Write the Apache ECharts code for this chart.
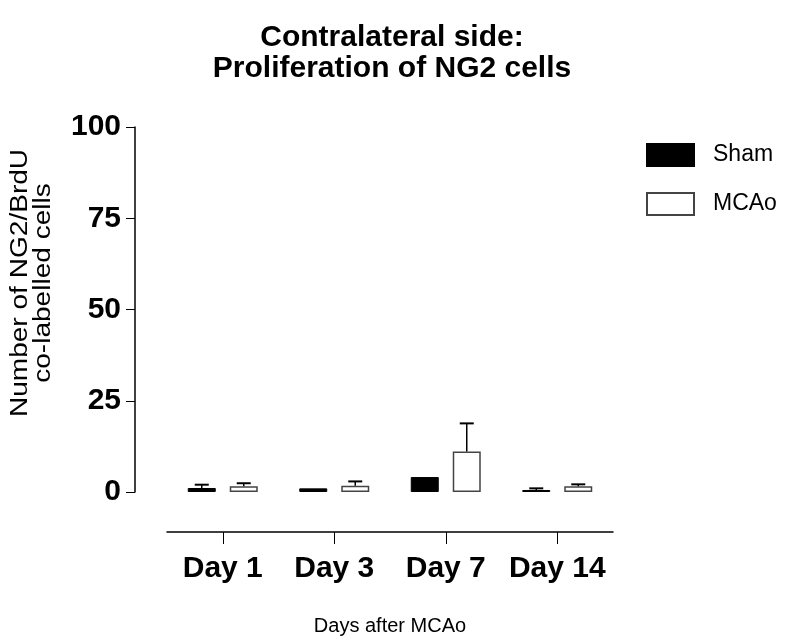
<!DOCTYPE html>
<html>
<head>
<meta charset="utf-8">
<script src="https://cdn.jsdelivr.net/npm/echarts@6/dist/echarts.min.js"></script>
<style>html,body{margin:0;padding:0;background:#fff;}#c{width:809px;height:639px;}</style>
</head>
<body>
<div id="c"></div>
<script>
var categories = ['Day 1', 'Day 3', 'Day 7', 'Day 14'];
var shamMean = [1.1, 1.0, 4.1, 0.55];
var shamSem = [0.9, 0, 0, 0.45];
var mcaoMean = [1.6, 1.7, 11.1, 1.6];
var mcaoSem = [0.8, 1.2, 7.7, 0.5];
var yTicks = [0, 25, 50, 75, 100];

var FONT = 'Liberation Sans, Arial, sans-serif';
var chart = echarts.init(document.getElementById('c'));

function errSeries(name, means, sems, offset) {
  return {
    type: 'custom',
    name: name + ' err',
    z: 5,
    silent: true,
    data: means.map(function (m, i) { return [i, m, m + sems[i]]; }),
    renderItem: function (params, api) {
      var lo = api.value(1), hi = api.value(2);
      if (hi - lo <= 0) return null;
      var p0 = api.coord([api.value(0), lo]);
      var p1 = api.coord([api.value(0), hi]);
      var x = p0[0] + offset;
      return {
        type: 'group',
        children: [
          { type: 'line', shape: { x1: x, y1: p0[1], x2: x, y2: p1[1] }, style: { stroke: '#000', lineWidth: 1.5 } },
          { type: 'line', shape: { x1: x - 7, y1: p1[1], x2: x + 7, y2: p1[1] }, style: { stroke: '#000', lineWidth: 2 } }
        ]
      };
    }
  };
}

chart.setOption({
  animation: false,
  backgroundColor: '#fff',
  title: {
    text: 'Contralateral side:\nProliferation of NG2 cells',
    left: 387, textAlign: 'center', top: 17,
    textStyle: { fontFamily: FONT, fontWeight: 'bold', fontSize: 30, lineHeight: 31, color: '#000' }
  },
  legend: {
    orient: 'vertical', left: 646, top: 143, padding: 0,
    itemWidth: 47, itemHeight: 22, itemGap: 25, icon: 'rect',
    data: ['Sham', 'MCAo'],
    textStyle: { fontFamily: FONT, fontSize: 23, color: '#000', padding: [0, 0, 0, 14] }
  },
  grid: { left: 167, right: 196, top: 127, bottom: 147, outerBoundsMode: 'none', containLabel: false },
  xAxis: {
    type: 'category', data: categories, offset: 40,
    axisLine: { show: true, onZero: false, lineStyle: { color: '#000', width: 1.5 } },
    axisTick: { show: true, interval: 0, alignWithLabel: true, length: 12, lineStyle: { color: '#000', width: 1 } },
    axisLabel: { interval: 0, fontFamily: FONT, fontWeight: 'bold', fontSize: 30, color: '#000', margin: 22 },
    name: 'Days after MCAo', nameLocation: 'middle', nameGap: 84,
    nameTextStyle: { fontFamily: FONT, fontSize: 20, color: '#000' }
  },
  yAxis: {
    type: 'value', min: yTicks[0], max: yTicks[yTicks.length - 1], interval: 25, offset: 32,
    axisLine: { show: true, lineStyle: { color: '#000', width: 1.5 } },
    axisTick: { show: true, length: 9, lineStyle: { color: '#000', width: 1 } },
    splitLine: { show: false },
    axisLabel: { fontFamily: FONT, fontWeight: 'bold', fontSize: 30, color: '#000', margin: 14 }
  },
  graphic: [{
    type: 'text', x: 32, y: 283, rotation: Math.PI / 2, scaleX: 1.22, scaleY: 1,
    style: {
      text: 'Number of NG2/BrdU\nco-labelled cells',
      font: '23px ' + FONT, fill: '#000', align: 'center', verticalAlign: 'middle', lineHeight: 23
    }
  }],
  series: [
    {
      name: 'Sham', type: 'bar', data: shamMean, barWidth: 28, barGap: '50%',
      itemStyle: { color: '#000', borderColor: '#000', borderWidth: 1 }
    },
    {
      name: 'MCAo', type: 'bar', data: mcaoMean, barWidth: 28,
      itemStyle: { color: '#fff', borderColor: '#444', borderWidth: 1.5 }
    },
    errSeries('Sham', shamMean, shamSem, -21),
    errSeries('MCAo', mcaoMean, mcaoSem, 21)
  ]
});
</script>
</body>
</html>
